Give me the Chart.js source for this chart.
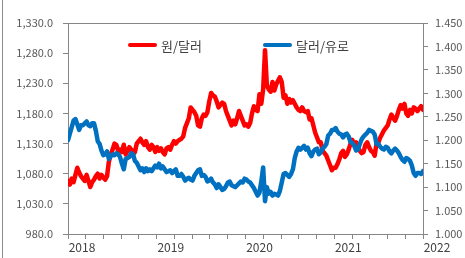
<!DOCTYPE html>
<html>
<head>
<meta charset="utf-8">
<script src="https://cdn.jsdelivr.net/npm/chart.js@4.4.0/dist/chart.umd.min.js"></script>
<style>
  body { margin: 0; background: #fff; }
  #wrap { position: relative; width: 465px; height: 258px; overflow: hidden; }
  #frame { position: absolute; left: 2px; top: 0; width: 1px; height: 258px; background: #8c8c8c; }
  .legend { position: absolute; top: 36px; height: 18px; display: flex; align-items: center;
            font: 13px "Noto Sans CJK KR", sans-serif; color: #404040; white-space: nowrap; }
  .swatch { display: inline-block; width: 29px; height: 4px; margin-right: 4px; border-radius: 2px; }
</style>
</head>
<body>
<div id="wrap">
  <canvas id="fxChart" width="465" height="258"></canvas>
  <div id="frame"></div>
  <div class="legend" style="left:128px"><span class="swatch" style="background:#ff0000"></span>원/달러</div>
  <div class="legend" style="left:263px"><span class="swatch" style="background:#0070c0"></span>달러/유로</div>
</div>
<script>
// weekly readings, 4 per month, Jan 2018 - Dec 2021
const krwPerUsd = [
  // 2018
  1068, 1062, 1072, 1066, 1078, 1090, 1082, 1076, 1072, 1068, 1078, 1068,
  1058, 1066, 1070, 1076, 1080, 1072, 1078, 1074, 1070, 1076, 1100, 1112,
  1120, 1130, 1128, 1118, 1120, 1116, 1128, 1112, 1118, 1124, 1120, 1112,
  1116, 1130, 1134, 1138, 1132, 1128, 1134, 1124, 1120, 1128, 1124, 1116,
  // 2019
  1124, 1118, 1122, 1116, 1112, 1122, 1124, 1120, 1128, 1134, 1130, 1134,
  1136, 1138, 1142, 1156, 1164, 1172, 1190, 1186, 1182, 1176, 1160, 1158,
  1172, 1178, 1176, 1182, 1200, 1214, 1210, 1208, 1200, 1190, 1194, 1198,
  1196, 1184, 1176, 1168, 1160, 1168, 1162, 1172, 1184, 1176, 1168, 1160,
  // 2020
  1162, 1158, 1164, 1180, 1192, 1186, 1184, 1212, 1196, 1220, 1285, 1226,
  1220, 1216, 1232, 1218, 1228, 1234, 1240, 1232, 1206, 1210, 1196, 1204,
  1198, 1202, 1196, 1190, 1186, 1184, 1190, 1184, 1182, 1184, 1170, 1172,
  1160, 1148, 1140, 1132, 1132, 1118, 1114, 1110, 1102, 1094, 1086, 1090,
  // 2021
  1090, 1096, 1104, 1114, 1118, 1108, 1112, 1120, 1130, 1136, 1128, 1132,
  1124, 1118, 1114, 1116, 1128, 1132, 1124, 1118, 1116, 1110, 1130, 1132,
  1140, 1146, 1152, 1156, 1160, 1170, 1178, 1172, 1168, 1176, 1186, 1194,
  1188, 1196, 1180, 1176, 1186, 1180, 1190, 1188, 1184, 1188, 1192, 1186
];

const usdPerEur = [
  // 2018
  1.200, 1.214, 1.228, 1.242, 1.245, 1.234, 1.222, 1.232, 1.232, 1.236, 1.240, 1.232,
  1.230, 1.236, 1.236, 1.220, 1.198, 1.192, 1.178, 1.168, 1.170, 1.176, 1.160, 1.166,
  1.170, 1.168, 1.172, 1.170, 1.164, 1.150, 1.138, 1.160, 1.162, 1.164, 1.172, 1.170,
  1.156, 1.152, 1.144, 1.136, 1.140, 1.132, 1.140, 1.134, 1.138, 1.134, 1.140, 1.146,
  // 2019
  1.142, 1.150, 1.140, 1.144, 1.138, 1.132, 1.134, 1.136, 1.130, 1.134, 1.138, 1.124,
  1.124, 1.128, 1.122, 1.114, 1.118, 1.120, 1.116, 1.114, 1.124, 1.130, 1.136, 1.138,
  1.124, 1.126, 1.122, 1.112, 1.114, 1.118, 1.110, 1.106, 1.098, 1.106, 1.100, 1.094,
  1.096, 1.102, 1.110, 1.112, 1.104, 1.102, 1.100, 1.104, 1.108, 1.112, 1.110, 1.118,
  // 2020
  1.116, 1.112, 1.110, 1.104, 1.098, 1.090, 1.082, 1.088, 1.112, 1.142, 1.070, 1.100,
  1.086, 1.090, 1.082, 1.086, 1.084, 1.082, 1.092, 1.110, 1.128, 1.130, 1.126, 1.122,
  1.128, 1.138, 1.162, 1.176, 1.184, 1.180, 1.184, 1.188, 1.180, 1.184, 1.172, 1.166,
  1.176, 1.180, 1.182, 1.170, 1.174, 1.182, 1.186, 1.192, 1.210, 1.214, 1.222, 1.222,
  // 2021
  1.226, 1.218, 1.214, 1.212, 1.206, 1.212, 1.214, 1.208, 1.196, 1.194, 1.188, 1.178,
  1.180, 1.192, 1.202, 1.208, 1.212, 1.216, 1.222, 1.220, 1.218, 1.212, 1.192, 1.192,
  1.186, 1.182, 1.180, 1.186, 1.184, 1.176, 1.172, 1.178, 1.182, 1.178, 1.172, 1.164,
  1.158, 1.154, 1.162, 1.160, 1.156, 1.146, 1.130, 1.124, 1.130, 1.130, 1.128, 1.134
];

const seriesNames = ['원/달러', '달러/유로'];
const yearLabels = ['2018', '2019', '2020', '2021', '2022'];
const leftTicks = [980, 1030, 1080, 1130, 1180, 1230, 1280, 1330];
const rightTicks = [1.000, 1.050, 1.100, 1.150, 1.200, 1.250, 1.300, 1.350, 1.400, 1.450];

// x in years, points spread evenly over the 4 years
const firstYear = Number(yearLabels[0]);
const lastYear = Number(yearLabels[yearLabels.length - 1]);
const toPoints = (arr) => arr.map((v, i) => ({
  x: firstYear + i * (lastYear - firstYear) / (arr.length - 1),
  y: v
}));

// tick marks every fifth of a year
const xTickMarks = [];
for (let k = 0; k <= (lastYear - firstYear) * 5; k++) xTickMarks.push(firstYear + k / 5);

const axisGray = '#868686';
const labelFont = { family: '"Noto Sans CJK KR", "Noto Sans", sans-serif', size: 11 };

// thin line along the top of the plot area
const plotTopLine = {
  id: 'plotTopLine',
  beforeDatasetsDraw(chart) {
    const { ctx, chartArea } = chart;
    ctx.save();
    ctx.strokeStyle = axisGray;
    ctx.lineWidth = 1;
    ctx.beginPath();
    ctx.moveTo(chartArea.left, Math.round(chartArea.top) + 0.5);
    ctx.lineTo(chartArea.right, Math.round(chartArea.top) + 0.5);
    ctx.stroke();
    ctx.restore();
  }
};

new Chart(document.getElementById('fxChart'), {
  type: 'line',
  data: {
    datasets: [
      {
        label: seriesNames[0],
        data: toPoints(krwPerUsd),
        yAxisID: 'yL',
        borderColor: '#ff0000',
        borderWidth: 4.5,
        pointRadius: 0,
        tension: 0,
        borderJoinStyle: 'round',
        borderCapStyle: 'round',
        order: 1
      },
      {
        label: seriesNames[1],
        data: toPoints(usdPerEur),
        yAxisID: 'yR',
        borderColor: '#0070c0',
        borderWidth: 4.5,
        pointRadius: 0,
        tension: 0,
        borderJoinStyle: 'round',
        borderCapStyle: 'round',
        order: 0
      }
    ]
  },
  options: {
    responsive: false,
    animation: false,
    layout: { padding: { top: 23, left: 0, right: 0, bottom: 0 } },
    plugins: {
      legend: { display: false },
      tooltip: { enabled: false }
    },
    scales: {
      x: {
        type: 'linear',
        min: firstYear,
        max: lastYear,
        afterBuildTicks: (s) => { s.ticks = xTickMarks.map(v => ({ value: v })); },
        afterFit: (s) => { s.height = 24; },
        grid: { drawOnChartArea: false, drawTicks: true, tickLength: 5, color: axisGray },
        border: { color: axisGray },
        ticks: {
          autoSkip: false,
          maxRotation: 0,
          labelOffset: 14,
          padding: 1,
          color: '#404040',
          font: { family: labelFont.family, size: 12 },
          callback: (v) => {
            const i = yearLabels.indexOf(String(Math.round(v)));
            return Math.abs(v - Math.round(v)) < 1e-6 && i >= 0 ? yearLabels[i] : '';
          }
        }
      },
      yL: {
        position: 'left',
        min: leftTicks[0],
        max: leftTicks[leftTicks.length - 1],
        afterBuildTicks: (s) => { s.ticks = leftTicks.map(v => ({ value: v })); },
        afterFit: (s) => { s.width = 68; },
        grid: { drawOnChartArea: false, drawTicks: true, tickLength: 5, color: axisGray },
        border: { color: axisGray },
        ticks: {
          padding: 10,
          color: '#595959',
          font: labelFont,
          callback: (v) => v.toLocaleString('en-US', { minimumFractionDigits: 1, maximumFractionDigits: 1 })
        }
      },
      yR: {
        position: 'right',
        min: rightTicks[0],
        max: rightTicks[rightTicks.length - 1],
        afterBuildTicks: (s) => { s.ticks = rightTicks.map(v => ({ value: v })); },
        afterFit: (s) => { s.width = 42; },
        grid: { drawOnChartArea: false, drawTicks: true, tickLength: 5, color: axisGray },
        border: { color: axisGray },
        ticks: {
          padding: 7,
          color: '#595959',
          font: labelFont,
          callback: (v) => v.toFixed(3)
        }
      }
    }
  },
  plugins: [plotTopLine]
});
</script>
</body>
</html>
